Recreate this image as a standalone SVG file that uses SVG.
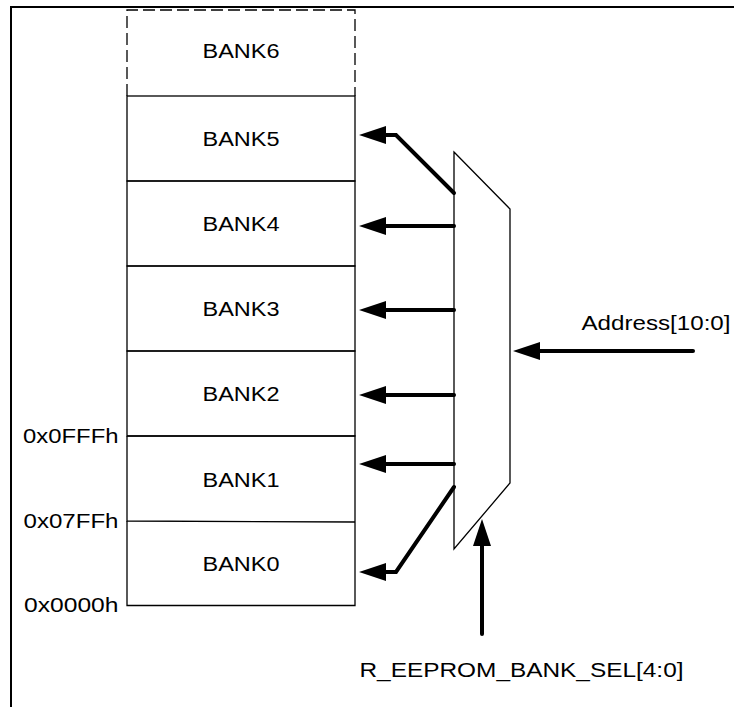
<svg xmlns="http://www.w3.org/2000/svg" width="734" height="707" viewBox="0 0 734 707">
<style>
.t{font-family:"Liberation Sans",Arial,sans-serif;font-size:20.5px;fill:#000}
.c{text-anchor:middle}
.r{text-anchor:end}
.box{fill:none;stroke:#000;stroke-width:1.3}
.dash{fill:none;stroke:#000;stroke-width:1.3;stroke-dasharray:12,5}
.w{fill:none;stroke:#000;stroke-width:4;stroke-linejoin:miter;stroke-linecap:round}
.frame{fill:none;stroke:#000;stroke-width:2}
</style>
<defs>
<marker id="ah" viewBox="0 0 27 18" markerWidth="27" markerHeight="18" refX="1" refY="9" orient="auto" markerUnits="userSpaceOnUse">
<path d="M0,0 L27,9 L0,18 z" fill="#000"/>
</marker>
</defs>
<rect width="734" height="707" fill="#fff"/>
<g id="frame">
<path class="frame" d="M11,707 V7 H734"/>
</g>
<g id="bank6">
<path class="dash" d="M127,96 V10 H355 V96"/>
<text class="t c" x="241" y="58" textLength="77" lengthAdjust="spacingAndGlyphs">BANK6</text>
</g>
<g id="bank5">
<rect class="box" x="127" y="96" width="228" height="85"/>
<text class="t c" x="241" y="146" textLength="77" lengthAdjust="spacingAndGlyphs">BANK5</text>
</g>
<g id="bank4">
<rect class="box" x="127" y="181" width="228" height="85"/>
<text class="t c" x="241" y="231" textLength="77" lengthAdjust="spacingAndGlyphs">BANK4</text>
</g>
<g id="bank3">
<rect class="box" x="127" y="266" width="228" height="85"/>
<text class="t c" x="241" y="316" textLength="77" lengthAdjust="spacingAndGlyphs">BANK3</text>
</g>
<g id="bank2">
<rect class="box" x="127" y="351" width="228" height="85"/>
<text class="t c" x="241" y="401" textLength="77" lengthAdjust="spacingAndGlyphs">BANK2</text>
</g>
<g id="bank1">
<path class="box" d="M127,436 H355 V522 M127,436 V521 L355,522"/>
<text class="t c" x="241" y="486.5" textLength="77" lengthAdjust="spacingAndGlyphs">BANK1</text>
</g>
<g id="bank0">
<path class="box" d="M127,521 V605.5 H355 V522"/>
<text class="t c" x="241" y="570.5" textLength="77" lengthAdjust="spacingAndGlyphs">BANK0</text>
</g>
<g id="addr-labels">
<text class="t r" x="118.5" y="442.5" textLength="95.5" lengthAdjust="spacingAndGlyphs">0x0FFFh</text>
<text class="t r" x="118.5" y="527.5" textLength="95" lengthAdjust="spacingAndGlyphs">0x07FFh</text>
<text class="t r" x="118.5" y="611.5" textLength="94.5" lengthAdjust="spacingAndGlyphs">0x0000h</text>
</g>
<g id="mux">
<polygon class="box" points="454,152 510,209 510,483 454,549"/>
</g>
<g id="address-label">
<text class="t" x="581.5" y="330" textLength="149" lengthAdjust="spacingAndGlyphs">Address[10:0]</text>
</g>
<g id="sel-label">
<text class="t" x="359.5" y="677" textLength="324" lengthAdjust="spacingAndGlyphs">R_EEPROM_BANK_SEL[4:0]</text>
</g>
<g id="connectors">
<polyline class="w" points="454,193 396,135 385,135" marker-end="url(#ah)"/>
<line class="w" x1="454" y1="226" x2="385" y2="226" marker-end="url(#ah)"/>
<line class="w" x1="454" y1="310" x2="385" y2="310" marker-end="url(#ah)"/>
<line class="w" x1="454" y1="395" x2="385" y2="395" marker-end="url(#ah)"/>
<line class="w" x1="454" y1="464" x2="385" y2="464" marker-end="url(#ah)"/>
<polyline class="w" points="454,487 396,572 385,572" marker-end="url(#ah)"/>
<line class="w" x1="693" y1="351" x2="539" y2="351" marker-end="url(#ah)"/>
<line class="w" x1="482" y1="634" x2="482" y2="545" marker-end="url(#ah)"/>
</g>
</svg>
